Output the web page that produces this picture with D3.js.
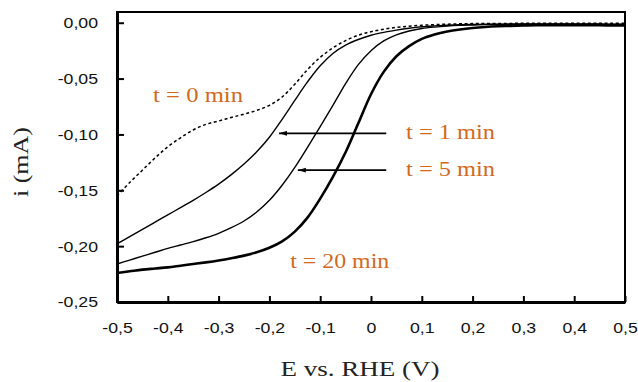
<!DOCTYPE html>
<html><head><meta charset="utf-8">
<script src="https://cdn.jsdelivr.net/npm/d3@7"></script>
<style>
html,body{margin:0;padding:0;background:#fff;}
svg{display:block;}
</style></head>
<body>
<svg id="chart" width="638" height="382"></svg>
<script>
// ---- data ----
const potentials  = [-0.500,-0.475,-0.450,-0.425,-0.400,-0.375,-0.350,-0.325,-0.300,-0.275,
                     -0.250,-0.225,-0.200,-0.175,-0.150,-0.125,-0.100,-0.075,-0.050,-0.025,
                      0.000, 0.025, 0.050, 0.075, 0.100, 0.125, 0.150, 0.175, 0.200, 0.225,
                      0.250, 0.275, 0.300, 0.325, 0.350, 0.375, 0.400, 0.425, 0.450, 0.475, 0.500];
const current_t0  = [-0.155,-0.143,-0.132,-0.121,-0.111,-0.103,-0.096,-0.091,-0.088,-0.0848,
                     -0.0818,-0.0785,-0.0740,-0.0665,-0.0550,-0.0420,-0.0310,-0.0225,-0.0160,-0.0112,
                     -0.0080,-0.0058,-0.0042,-0.0031,-0.0023,-0.0017,-0.0013,-0.0010,-0.0008,-0.0007,
                     -0.0006,-0.0006,-0.0005,-0.0005,-0.0005,-0.0005,-0.0005,-0.0005,-0.0005,-0.0005,-0.0005];
const current_t1  = [-0.198,-0.1915,-0.185,-0.1785,-0.172,-0.1655,-0.159,-0.152,-0.1445,-0.136,
                     -0.1265,-0.1155,-0.1025,-0.0865,-0.0695,-0.0530,-0.0385,-0.0275,-0.0200,-0.0150,
                     -0.0112,-0.0086,-0.0066,-0.0049,-0.0036,-0.0028,-0.0022,-0.0018,-0.0016,-0.0014,
                     -0.0013,-0.0012,-0.0012,-0.0012,-0.0012,-0.0012,-0.0012,-0.0012,-0.0012,-0.0013,-0.0013];
const current_t5  = [-0.216,-0.2125,-0.209,-0.2055,-0.202,-0.199,-0.196,-0.1925,-0.1885,-0.1835,
                     -0.1775,-0.1695,-0.1590,-0.1455,-0.1295,-0.1115,-0.0930,-0.0740,-0.0545,-0.0375,
                     -0.0250,-0.0162,-0.0108,-0.0074,-0.0052,-0.0039,-0.0030,-0.0024,-0.0020,-0.0017,
                     -0.0016,-0.0015,-0.0014,-0.0014,-0.0014,-0.0014,-0.0014,-0.0014,-0.0014,-0.0015,-0.0015];
const current_t20 = [-0.224,-0.2225,-0.221,-0.220,-0.219,-0.2175,-0.216,-0.2145,-0.2128,-0.2108,
                     -0.2085,-0.2055,-0.2015,-0.1958,-0.1870,-0.1745,-0.1575,-0.1380,-0.1160,-0.0900,
                     -0.0640,-0.0440,-0.0300,-0.0210,-0.0145,-0.0105,-0.0078,-0.0060,-0.0047,-0.0038,
                     -0.0032,-0.0028,-0.0025,-0.0023,-0.0022,-0.0022,-0.0022,-0.0023,-0.0023,-0.0024,-0.0025];
const xTickValues = [-0.5,-0.4,-0.3,-0.2,-0.1,0,0.1,0.2,0.3,0.4,0.5];
const xTickLabels = ["-0,5","-0,4","-0,3","-0,2","-0,1","0","0,1","0,2","0,3","0,4","0,5"];
const yTickValues = [0,-0.05,-0.10,-0.15,-0.20,-0.25];
const yTickLabels = ["0,00","-0,05","-0,10","-0,15","-0,20","-0,25"];
// annotation labels (data coords: E, i)
const labelText = ["t = 0 min","t = 1 min","t = 5 min","t = 20 min"];
const labelE    = [-0.429, 0.069, 0.069, -0.159];
const labelI    = [-0.0712,-0.1044,-0.1376,-0.2200];
// arrows (from E0 to E1 at current I)
const arrowE0 = [0.030, 0.030];
const arrowE1 = [-0.181,-0.144];
const arrowI  = [-0.0990,-0.1320];

// ---- layout ----
const svg = d3.select("#chart");
const L = 117, R = 625, T = 12, B = 302;
const x = d3.scaleLinear().domain([-0.5,0.5]).range([L,R]);
const y = d3.scaleLinear().domain([-0.25,0.0096]).range([B,T]);
const orange = "#d2691e";

svg.append("clipPath").attr("id","clip").append("rect")
  .attr("x",L).attr("y",T).attr("width",R-L).attr("height",B-T);

const series = [
  {vals: current_t0, w:1.5, dash:"3,2.6"},
  {vals: current_t1, w:1.4, dash:null},
  {vals: current_t5, w:1.4, dash:null},
  {vals: current_t20, w:2.6, dash:null}
];
const line = d3.line().x(d=>x(d[0])).y(d=>y(d[1])).curve(d3.curveCatmullRom.alpha(0.5));
const g = svg.append("g").attr("clip-path","url(#clip)");
series.forEach(s=>{
  g.append("path")
   .datum(potentials.map((e,i)=>[e,s.vals[i]]))
   .attr("d",line).attr("fill","none").attr("stroke","#000")
   .attr("stroke-width",s.w).attr("stroke-dasharray",s.dash);
});

const defs = svg.append("defs");
defs.append("marker").attr("id","ah").attr("viewBox","0 0 10 6")
  .attr("refX",10).attr("refY",3).attr("markerWidth",8).attr("markerHeight",5.5)
  .attr("markerUnits","userSpaceOnUse").attr("orient","auto")
  .append("path").attr("d","M0,0 L10,3 L0,6 Z").attr("fill","#000");
arrowE0.forEach((e0,i)=>{
  svg.append("line").attr("x1",x(e0)).attr("x2",x(arrowE1[i]))
    .attr("y1",y(arrowI[i])).attr("y2",y(arrowI[i]))
    .attr("stroke","#000").attr("stroke-width",1.7).attr("marker-end","url(#ah)");
});

const labelWidths = [90,89,89,99];
labelText.forEach((t,i)=>{
  svg.append("text").attr("x",x(labelE[i])).attr("y",y(labelI[i]))
    .attr("font-family","'Liberation Serif',serif").attr("font-size",20)
    .attr("fill",orange).attr("textLength",labelWidths[i])
    .attr("lengthAdjust","spacingAndGlyphs").text(t);
});

svg.append("rect").attr("x",L).attr("y",T).attr("width",R-L).attr("height",B-T)
  .attr("fill","none").attr("stroke","#000").attr("stroke-width",2);

const xAxis = d3.axisBottom(x).tickValues(xTickValues)
  .tickFormat((d,i)=>xTickLabels[i]).tickSizeInner(-6).tickSizeOuter(0).tickPadding(20);
const yAxis = d3.axisLeft(y).tickValues(yTickValues)
  .tickFormat((d,i)=>yTickLabels[i]).tickSizeInner(-7).tickSizeOuter(0).tickPadding(19);

const gx = svg.append("g").attr("transform",`translate(0,${B})`).call(xAxis);
const gy = svg.append("g").attr("transform",`translate(${L},0)`).call(yAxis);
[gx,gy].forEach(a=>{
  a.select(".domain").attr("stroke","#000").attr("stroke-width",3);
  a.selectAll(".tick line").attr("stroke","#000").attr("stroke-width",2);
  a.selectAll(".tick text").attr("font-family","'Liberation Sans',Arial,sans-serif")
    .attr("font-size",15.4).attr("fill","#111");
});
gx.selectAll(".tick text").attr("transform","scale(1.15,1)").attr("dy","0.71em");
gy.selectAll(".tick text").attr("transform","scale(1.15,1)").attr("x",-19/1.15);

svg.append("text").attr("x",(L+R)/2-11).attr("y",376).attr("text-anchor","middle")
  .attr("font-family","'Liberation Serif',serif").attr("font-size",22)
  .attr("fill","#222").attr("textLength",159).attr("lengthAdjust","spacingAndGlyphs")
  .text("E vs. RHE (V)");
svg.append("text").attr("transform","translate(28,162) rotate(-90)")
  .attr("text-anchor","middle")
  .attr("font-family","'Liberation Serif',serif").attr("font-size",22)
  .attr("fill","#222").attr("textLength",70).attr("lengthAdjust","spacingAndGlyphs")
  .text("i (mA)");
</script>
</body></html>
